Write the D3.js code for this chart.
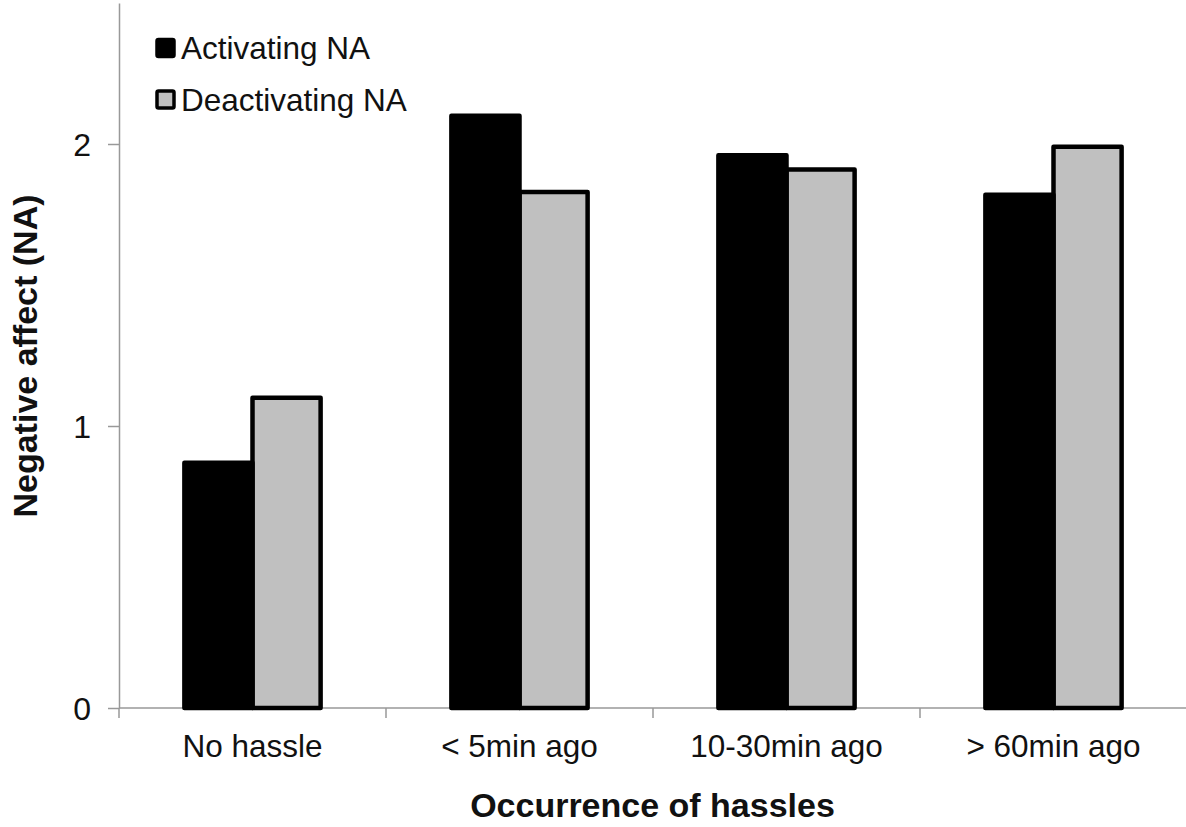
<!DOCTYPE html>
<html>
<head>
<meta charset="utf-8">
<script src="https://cdn.jsdelivr.net/npm/d3@7"></script>
<style>
  html, body { margin: 0; padding: 0; background: #fff; }
  svg { display: block; font-family: "Liberation Sans", Arial, sans-serif; }
</style>
</head>
<body>
<svg id="chart" width="1186" height="827"></svg>
<script>
// Mean negative affect by time since a daily hassle
const categories = ["No hassle", "< 5min ago", "10-30min ago", "> 60min ago"];
const seriesNames = ["Activating NA", "Deactivating NA"];
const activating = [0.87, 2.10, 1.96, 1.82];
const deactivating = [1.10, 1.83, 1.91, 1.99];
const yTicks = [0, 1, 2];
const seriesColors = ["#000000", "#c0c0c0"];

const svg = d3.select("#chart");
const margin = { left: 119, right: -1, top: 3, bottom: 119 };
const W = 1186, H = 827;

const x = d3.scaleBand().domain(categories).range([margin.left, W - margin.right]).paddingInner(0).paddingOuter(0);
const xSub = d3.scaleBand().domain(seriesNames).range([0, x.bandwidth()]).paddingInner(0).paddingOuter(0.96);
const y = d3.scaleLinear().domain([0, 2.5]).range([H - margin.bottom, margin.top]);

const rows = categories.map((c, i) => ({ cat: c, values: [activating[i], deactivating[i]] }));

// Y axis
const yAxis = svg.append("g").attr("transform", `translate(${margin.left},0)`)
  .call(d3.axisLeft(y).tickValues(yTicks).tickFormat(d3.format("d")).tickSize(11).tickSizeOuter(0));
yAxis.select(".domain").attr("stroke", "#999").attr("stroke-width", 1.5);
yAxis.selectAll(".tick line").attr("stroke", "#999").attr("stroke-width", 1.5);
yAxis.selectAll(".tick text").attr("font-size", 32).attr("fill", "#111").attr("x", -28).attr("dy", "0.36em");

// X axis with tick marks at category boundaries
const xAxisG = svg.append("g").attr("transform", `translate(0,${y(0)})`);
xAxisG.append("line").attr("x1", margin.left).attr("x2", W).attr("y1", 0).attr("y2", 0)
  .attr("stroke", "#999").attr("stroke-width", 1.5);
xAxisG.selectAll(".bound").data(categories).join("line")
  .attr("x1", d => x(d)).attr("x2", d => x(d)).attr("y1", 0).attr("y2", 10)
  .attr("stroke", "#999").attr("stroke-width", 1.5);
xAxisG.selectAll(".cat").data(categories).join("text")
  .attr("x", d => x(d) + x.bandwidth() / 2).attr("y", 49)
  .attr("text-anchor", "middle").attr("font-size", 31.5).attr("fill", "#111").text(d => d);

// Bars
const groups = svg.append("g").selectAll("g").data(rows).join("g")
  .attr("transform", d => `translate(${x(d.cat)},0)`);
groups.selectAll("rect").data(d => d.values.map((v, j) => ({ name: seriesNames[j], v, j })))
  .join("rect")
  .attr("x", d => xSub(d.name))
  .attr("width", xSub.bandwidth())
  .attr("y", d => y(d.v))
  .attr("height", d => y(0) - y(d.v))
  .attr("fill", d => seriesColors[d.j])
  .attr("stroke", "#000")
  .attr("stroke-width", 4.5)
  .attr("stroke-linejoin", "round");
// Black bars sit above the grey outline
groups.each(function () {
  d3.select(this).selectAll("rect").filter(d => d.j === 0).raise();
});

// Axis titles
svg.append("text").attr("x", (margin.left + W) / 2).attr("y", 817)
  .attr("text-anchor", "middle").attr("font-size", 34).attr("font-weight", "bold").attr("fill", "#111")
  .text("Occurrence of hassles");
svg.append("text").attr("transform", `translate(37,356) rotate(-90)`)
  .attr("text-anchor", "middle").attr("font-size", 34).attr("font-weight", "bold").attr("fill", "#111")
  .text("Negative affect (NA)");

// Legend
const legend = svg.append("g").selectAll("g").data(seriesNames).join("g")
  .attr("transform", (d, i) => `translate(157,${39.5 + i * 51.5})`);
legend.append("rect").attr("width", 17).attr("height", 17).attr("rx", 1.5)
  .attr("fill", (d, i) => seriesColors[i]).attr("stroke", "#000").attr("stroke-width", 3.5);
legend.append("text").attr("x", 24).attr("y", 19.5).attr("font-size", 31.5).attr("fill", "#111").text(d => d);
</script>
</body>
</html>
